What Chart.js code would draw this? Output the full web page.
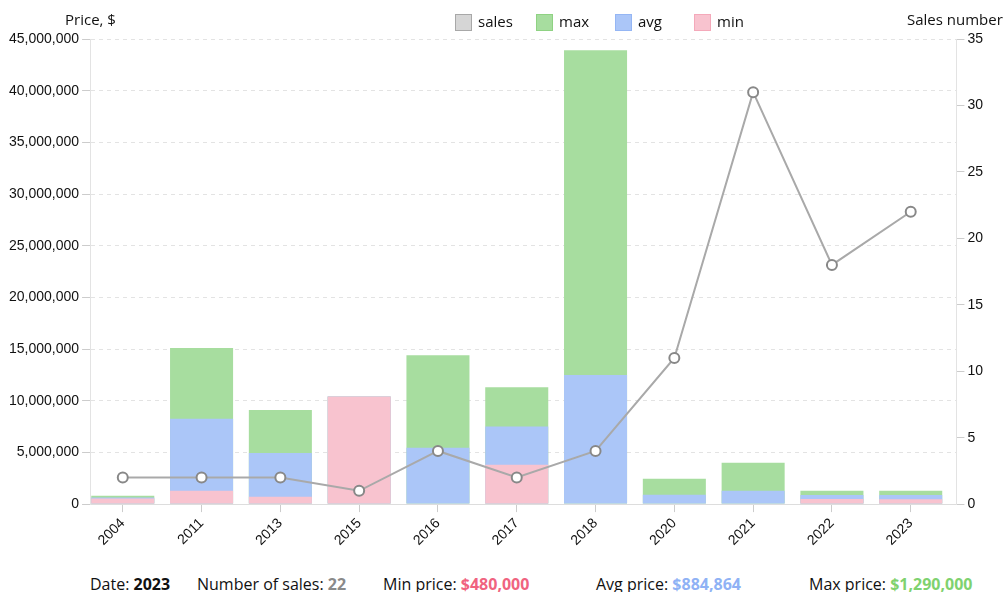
<!DOCTYPE html>
<html>
<head>
<meta charset="utf-8">
<script src="https://cdn.jsdelivr.net/npm/chart.js@4/dist/chart.umd.min.js"></script>
<style>
  body { margin: 0; background: #fff; font-family: "Open Sans", "Noto Sans", sans-serif; }
  #wrap { position: relative; width: 1003px; height: 560px; }
  .axisTitle { position: absolute; top: 9px; font-size: 15px; color: #111; }
  .legendItem { position: absolute; top: 10px; font-size: 15px; color: #111; line-height: 22px; }
  .legendItem i { position: absolute; left: 0; top: 4px; width: 15px; height: 15px; border: 1px solid; }
  .legendItem span { position: absolute; left: 23px; top: 0; white-space: nowrap; }
  #stats { position: relative; width: 1003px; height: 32px; font-size: 16px; color: #111; }
  #stats span.item { position: absolute; top: 13px; white-space: nowrap; }
  #stats b { font-weight: 700; }
</style>
</head>
<body>
<div id="wrap">
  <canvas id="priceChart"></canvas>
  <div class="axisTitle" style="left:65px">Price, $</div>
  <div class="axisTitle" style="left:907px">Sales number</div>
  <div id="legend"></div>
</div>
<div id="stats">
  <span class="item" style="left:90px">Date: <b>2023</b></span>
  <span class="item" style="left:197px">Number of sales: <b style="color:#8a8a8a">22</b></span>
  <span class="item" style="left:383px">Min price: <b style="color:#f0637f">$480,000</b></span>
  <span class="item" style="left:596px">Avg price: <b style="color:#8fb2f5">$884,864</b></span>
  <span class="item" style="left:809px">Max price: <b style="color:#7fd26f">$1,290,000</b></span>
</div>
<script>
'use strict';

// data
var years = ['2004', '2011', '2013', '2015', '2016', '2017', '2018', '2020', '2021', '2022', '2023'];
var salesCount = [2, 2, 2, 1, 4, 2, 4, 11, 31, 18, 22];
var maxPrice = [800000, 15100000, 9100000, 10400000, 14400000, 11300000, 43900000, 2450000, 4000000, 1300000, 1290000];
var avgPrice = [650000, 8250000, 4950000, 10400000, 5450000, 7500000, 12500000, 900000, 1300000, 880000, 884864];
var minPrice = [540000, 1290000, 700000, 10400000, 0, 3800000, 0, 0, 0, 500000, 480000];

// colours
var green = '#a7dd9f';
var blue = '#abc6f8';
var pink = '#f8c3cf';
var grey = '#a9a9a9';

var tickFont = { family: '"Liberation Sans", Arial, sans-serif', size: 14 };

// x is an index into years, so the bars sit a little left like the original
function byYear(arr) {
    return arr.map(function (v, i) { return { x: i, y: v }; });
}

function barSet(label, arr, color, order) {
    return {
        type: 'bar',
        label: label,
        data: byYear(arr),
        yAxisID: 'yPrice',
        order: order,
        backgroundColor: color,
        borderWidth: 0,
        categoryPercentage: 1,
        barPercentage: 0.8
    };
}

var ctx = document.getElementById('priceChart');
var chart = new Chart(ctx, {
    data: {
        datasets: [
            {
                type: 'line',
                label: 'sales',
                data: byYear(salesCount),
                yAxisID: 'ySales',
                order: 0,
                borderColor: grey,
                backgroundColor: '#d6d6d6',
                borderWidth: 2,
                pointRadius: 5,
                pointBorderWidth: 2,
                pointBackgroundColor: '#fff',
                pointBorderColor: '#888',
                tension: 0
            },
            barSet('max', maxPrice, green, 3),
            barSet('avg', avgPrice, blue, 2),
            barSet('min', minPrice, pink, 1)
        ]
    },
    options: {
        responsive: true,
        maintainAspectRatio: false,
        animation: false,
        layout: { padding: { left: 6, right: 17, top: 39, bottom: 8 } },
        plugins: {
            tooltip: { enabled: false },
            legend: { display: false }
        },
        scales: {
            x: {
                type: 'linear',
                min: -0.415,
                max: 10.58,
                offset: false,
                stacked: true,
                afterBuildTicks: function (scale) {
                    scale.ticks = years.map(function (y, i) { return { value: i }; });
                },
                grid: { display: true, drawOnChartArea: false, offset: false, color: '#ccc', tickLength: 8 },
                border: { color: '#ddd', dash: [4, 4] },
                ticks: {
                    font: tickFont,
                    color: '#111',
                    maxRotation: 45,
                    minRotation: 45,
                    autoSkip: false,
                    callback: function (v) { return years[v]; }
                }
            },
            yPrice: {
                type: 'linear',
                position: 'left',
                min: 0,
                max: 45000000,
                stacked: false,
                ticks: {
                    stepSize: 5000000,
                    font: tickFont,
                    color: '#111',
                    callback: function (v) { return v.toLocaleString('en-US'); }
                },
                grid: { color: '#e3e3e3', tickColor: '#ccc', tickLength: 8 },
                border: { color: '#e3e3e3', dash: [4, 4] }
            },
            ySales: {
                type: 'linear',
                position: 'right',
                min: 0,
                max: 35,
                ticks: { stepSize: 5, font: tickFont, color: '#111' },
                grid: { drawOnChartArea: false, color: '#ccc', tickLength: 8 },
                border: { color: '#e3e3e3' }
            }
        }
    }
});

// legend drawn as html, same order as the datasets
var legendLeft = [455, 536, 615, 694];
var legendFill = ['#d6d6d6', green, blue, pink];
var legendStroke = ['#a8a8a8', '#8fd283', '#95b6f4', '#f4a9ba'];
var legendHtml = '';
chart.data.datasets.forEach(function (ds, i) {
    legendHtml += '<div class="legendItem" style="left:' + legendLeft[i] + 'px">' +
        '<i style="background:' + legendFill[i] + ';border-color:' + legendStroke[i] + '"></i>' +
        '<span>' + ds.label + '</span></div>';
});
document.getElementById('legend').innerHTML = legendHtml;
</script>
</body>
</html>
